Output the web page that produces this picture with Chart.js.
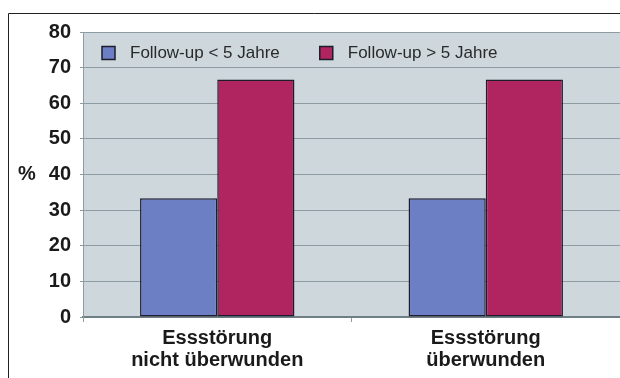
<!DOCTYPE html>
<html lang="de">

<head>
    <meta charset="utf-8">
    <title>Essstörung Follow-up</title>
    <script src="https://cdn.jsdelivr.net/npm/chart.js"></script>
    <style>
        body { margin: 0; background: #fff; }
    </style>
</head>

<body>
    <canvas id="myChart" width="620" height="378"></canvas>

    <script type="text/javascript">

        const categories = [['Essstörung', 'nicht überwunden'], ['Essstörung', 'überwunden']];
        const seriesNames = ['Follow-up < 5 Jahre', 'Follow-up > 5 Jahre'];
        const under5 = [33.3, 33.3];
        const over5 = [66.7, 66.7];
        const yTicks = [0, 10, 20, 30, 40, 50, 60, 70, 80];

        const FONT = "'Liberation Sans', Arial, sans-serif";
        const GRID = '#8e9ca3';

        // outer frame line (left + top) and plot background
        const frameAndBg = {
            id: 'frameAndBg',
            beforeDraw(chart) {
                const { ctx, chartArea: { left, top, right, bottom } } = chart;
                ctx.save();
                ctx.fillStyle = '#ffffff';
                ctx.fillRect(0, 0, chart.width, chart.height);
                ctx.fillStyle = '#cdd7dc';
                ctx.fillRect(left, top, right - left, bottom - top);
                ctx.strokeStyle = '#222';
                ctx.lineWidth = 1;
                ctx.beginPath();
                ctx.moveTo(8.5, chart.height);
                ctx.lineTo(8.5, 13.5);
                ctx.lineTo(chart.width, 13.5);
                ctx.stroke();
                ctx.restore();
            }
        };

        // legend inside the plot area, "%" label next to the y axis
        const extras = {
            id: 'extras',
            afterDatasetsDraw(chart) {
                const { ctx } = chart;
                ctx.save();
                ctx.font = '17px ' + FONT;
                ctx.textBaseline = 'middle';
                let x = 102;
                const y = 53;
                chart.data.datasets.forEach(ds => {
                    ctx.fillStyle = ds.backgroundColor;
                    ctx.fillRect(x, y - 6.5, 13, 13);
                    ctx.strokeStyle = '#1c1c2c';
                    ctx.lineWidth = 1.5;
                    ctx.strokeRect(x, y - 6.5, 13, 13);
                    ctx.fillStyle = '#2a2a2a';
                    ctx.textAlign = 'left';
                    ctx.fillText(ds.label, x + 28, y);
                    x += 28 + ctx.measureText(ds.label).width + 40;
                });

                ctx.font = 'bold 20px ' + FONT;
                ctx.fillStyle = '#1a1a1a';
                ctx.textAlign = 'center';
                ctx.fillText('%', 27, chart.scales.y.getPixelForValue(40));
                ctx.restore();
            }
        };

        const ctx = document.getElementById('myChart');
        new Chart(ctx, {
            type: 'bar',
            data: {
                labels: categories,
                datasets: [{
                    label: seriesNames[0],
                    data: under5,
                    backgroundColor: '#6c7ec4',
                    borderColor: '#1c1c2c',
                    borderWidth: 1.5,
                    borderSkipped: false
                }, {
                    label: seriesNames[1],
                    data: over5,
                    backgroundColor: '#b02460',
                    borderColor: '#1c1c2c',
                    borderWidth: 1.5,
                    borderSkipped: false
                }]
            },
            options: {
                responsive: false,
                animation: false,
                barPercentage: 1,
                categoryPercentage: 0.575,
                layout: { padding: { top: 32, left: 0, right: 0, bottom: 0 } },
                plugins: {
                    legend: { display: false },
                    tooltip: { enabled: false }
                },
                scales: {
                    x: {
                        afterFit(scale) { scale.height = 61; },
                        grid: {
                            drawOnChartArea: false,
                            drawTicks: true,
                            tickLength: 5,
                            tickColor: GRID
                        },
                        border: { color: '#6f7d84', width: 2 },
                        ticks: {
                            padding: 5,
                            color: '#1a1a1a',
                            font: { family: FONT, size: 20, weight: 'bold', lineHeight: 1.1 }
                        }
                    },
                    y: {
                        min: yTicks[0],
                        max: yTicks[yTicks.length - 1],
                        afterFit(scale) { scale.width = 83; },
                        afterBuildTicks(scale) { scale.ticks = yTicks.map(v => ({ value: v })); },
                        grid: {
                            color: GRID,
                            tickLength: 3,
                            tickColor: GRID
                        },
                        border: { color: GRID },
                        ticks: {
                            padding: 9,
                            color: '#1a1a1a',
                            font: { family: FONT, size: 20, weight: 'bold' }
                        }
                    }
                }
            },
            plugins: [frameAndBg, extras]
        });
    </script>
</body>

</html>
